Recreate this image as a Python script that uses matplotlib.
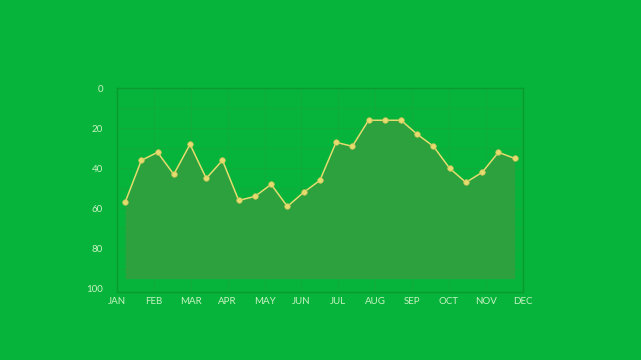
import matplotlib.pyplot as plt
import numpy as np

months = ["JAN", "FEB", "MAR", "APR", "MAY", "JUN", "JUL", "AUG", "SEP", "OCT", "NOV", "DEC"]
yticks = [0, 20, 40, 60, 80, 100]
# x in month units, half-month steps
xs = [0.22 + 0.44 * i for i in range(25)]
vals = [57, 36, 32, 43, 28, 45, 36, 56, 54, 48, 59, 52, 46,
        27, 29, 16, 16, 16, 23, 29, 40, 47, 42, 32, 35]
base = 95

bg = "#06b43b"
fill_c = "#2da13d"
line_c = "#e4dc6e"
txt_c = "#c9f2c4"

plt.rcParams['font.family'] = ["Lato", "DejaVu Sans"]

fig = plt.figure(figsize=(6.41, 3.6), dpi=100, facecolor=bg)
ax = fig.add_axes([0.1825, 0.19, 0.633, 0.565], facecolor=bg)

ax.fill_between(xs, vals, base, color=fill_c, linewidth=0, zorder=1)
ax.plot(xs, vals, color=line_c, linewidth=1.1, zorder=3)
ax.scatter(xs, vals, s=16, color=line_c, edgecolor="#c9c25a", linewidth=0.5, zorder=4)

ax.set_xlim(0, 11)
ax.set_ylim(101.5, 0)
ax.set_xticks(range(12))
ax.set_xticklabels(months)
ax.set_yticks(yticks)

for x in range(12):
    ax.axvline(x, color="#1aa33a", linewidth=0.6, zorder=0.5, alpha=0.6)
for y in range(10, 100, 10):
    ax.axhline(y, color="#1aa33a", linewidth=0.6, zorder=0.5, alpha=0.6)

for s in ax.spines.values():
    s.set_color("#0a9a30")
    s.set_linewidth(1.0)

ax.tick_params(length=0, colors=txt_c, labelsize=7, pad=4)
ax.tick_params(axis="y", pad=10)
for lab in ax.get_xticklabels() + ax.get_yticklabels():
    lab.set_color(txt_c)

fig.savefig("out.png", dpi=100, facecolor=bg)
